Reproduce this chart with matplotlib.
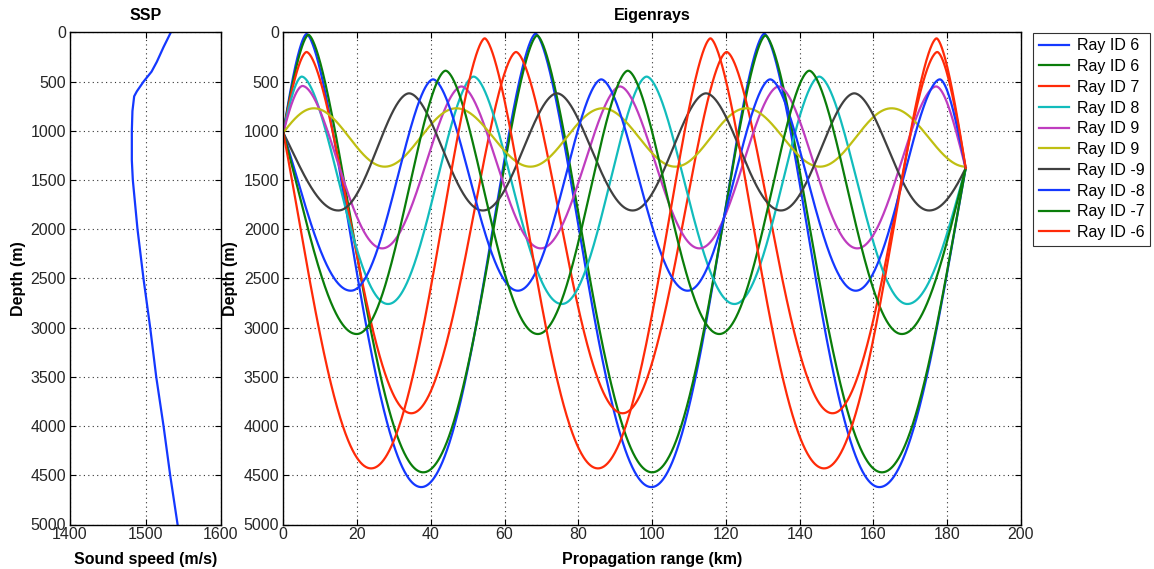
import numpy as np
import matplotlib
matplotlib.use("Agg")
import matplotlib.pyplot as plt

plt.rcParams['font.family'] = ['Liberation Sans', 'DejaVu Sans']

# ---------------- data ----------------
ssp_depth = [0, 150, 300, 400, 500, 600, 650, 800, 1000, 1300, 1500, 2000, 2500,
             3000, 3500, 4000, 4500, 5000]
ssp_speed = [1533.6, 1523.9, 1515.0, 1508.0, 1497.5, 1488.5, 1485.0, 1482.7, 1481.9,
             1481.9, 1483.2, 1489.4, 1497.3, 1506.2, 1514.2, 1523.9, 1532.7, 1542.5]

source_range = 0.0
source_depth = 1020.0
receiver_range = 185.0
receiver_depth = 1380.0

ray_labels = ['Ray ID 6', 'Ray ID 6', 'Ray ID 7', 'Ray ID 8', 'Ray ID 9', 'Ray ID 9',
              'Ray ID -9', 'Ray ID -8', 'Ray ID -7', 'Ray ID -6']

# turning points (range km, depth m) between source and receiver
ray1_range = [6.3, 37.4, 68.4, 99.8, 130.4, 161.6]
ray1_depth = [17, 4620, 14, 4620, 14, 4620]
ray2_range = [6.8, 37.95, 68.8, 100.0, 130.7, 162.3]
ray2_depth = [25, 4470, 32, 4470, 32, 4470]
ray3_range = [6.3, 34.7, 63.1, 92.0, 120.2, 148.9, 177.3]
ray3_depth = [200, 3870, 200, 3870, 200, 3870, 200]
ray4_range = [5.0, 28.4, 51.6, 75.5, 98.5, 122.3, 145.3, 169.2]
ray4_depth = [450, 2760, 450, 2760, 450, 2760, 450, 2760]
ray5_range = [5.2, 26.8, 48.3, 69.8, 91.3, 112.8, 134.3, 155.6, 177.0]
ray5_depth = [545, 2195, 550, 2195, 550, 2195, 550, 2195, 550]
ray6_range = [8.3, 27.5, 46.9, 67.0, 86.6, 106.3, 125.5, 145.5, 164.9]
ray6_depth = [772, 1365, 772, 1365, 772, 1365, 772, 1365, 772]
ray7_range = [14.9, 34.1, 54.1, 74.2, 94.7, 114.6, 134.9, 154.8, 175.1]
ray7_depth = [1810, 620, 1810, 620, 1810, 620, 1810, 620, 1810]
ray8_range = [18.3, 40.6, 63.6, 86.2, 109.6, 132.0, 155.2, 178.0]
ray8_depth = [2625, 478, 2625, 478, 2625, 478, 2625, 478]
ray9_range = [19.9, 44.0, 69.0, 93.4, 118.2, 142.6, 167.7]
ray9_depth = [3065, 390, 3065, 390, 3065, 390, 3065]
ray10_range = [23.8, 54.6, 85.3, 115.8, 146.6, 177.1]
ray10_depth = [4430, 61, 4430, 61, 4430, 61]

ray_ranges = [ray1_range, ray2_range, ray3_range, ray4_range, ray5_range,
              ray6_range, ray7_range, ray8_range, ray9_range, ray10_range]
ray_depths = [ray1_depth, ray2_depth, ray3_depth, ray4_depth, ray5_depth,
              ray6_depth, ray7_depth, ray8_depth, ray9_depth, ray10_depth]

# ---------------- styles ----------------
ray_colors = ['#1438ff', '#0a7d0a', '#ff2a08', '#12bcbc', '#bf3cbf', '#bfbf12',
              '#404040', '#1438ff', '#0a7d0a', '#ff2a08']
# sharpness of the shallow turning points (1 = symmetric)
ray_sharp = [0.8, 0.8, 0.84, 0.88, 0.9, 1.0, 0.92, 0.88, 0.86, 0.8]

NSEG = 200


def frac(u, p):
    u = np.clip(u, 0, 1)
    return (1 - np.cos(np.pi * u ** p)) / 2


def seg_depth(s, z_start, z_end, p):
    """depth along a half cycle from turning point z_start (s=0) to z_end (s=1)."""
    zsh, zdp = min(z_start, z_end), max(z_start, z_end)
    u = s if z_start < z_end else 1 - s
    return zsh + (zdp - zsh) * frac(u, p)


def partial(x_turn, z_turn, z_virtual, x_end, z_end, p):
    s_grid = np.linspace(0, 1, 2001)
    zg = seg_depth(s_grid, z_turn, z_virtual, p)
    if z_virtual > z_turn:
        s0 = np.interp(z_end, zg, s_grid)
    else:
        s0 = np.interp(-z_end, -zg, s_grid)
    s0 = max(s0, 1e-3)
    s = np.linspace(0, s0, NSEG)
    L = abs(x_end - x_turn) / s0
    direction = np.sign(x_end - x_turn)
    return x_turn + direction * s * L, seg_depth(s, z_turn, z_virtual, p)


def build_ray(rr, dd, p):
    xs, zs = [], []
    x, z = partial(rr[0], dd[0], dd[1], source_range, source_depth, p)
    xs.append(x[::-1]); zs.append(z[::-1])
    for i in range(len(rr) - 1):
        s = np.linspace(0, 1, NSEG)
        xs.append(rr[i] + s * (rr[i + 1] - rr[i]))
        zs.append(seg_depth(s, dd[i], dd[i + 1], p))
    x, z = partial(rr[-1], dd[-1], dd[-2], receiver_range, receiver_depth, p)
    xs.append(x); zs.append(z)
    return np.concatenate(xs), np.concatenate(zs)


# ---------------- figure ----------------
W, H = 1154, 569
fig = plt.figure(figsize=(W / 100, H / 100), dpi=100)


def frame(l, t, r, b):
    return [l / W, 1 - b / H, (r - l) / W, (b - t) / H]


ax1 = fig.add_axes(frame(70, 32.3, 221, 524.5))
ax2 = fig.add_axes(frame(283.3, 32.3, 1021, 524.5))

FS = 11.5
tick_kw = dict(direction='in', top=True, right=True, labelsize=FS, length=4,
               width=0.8, labelcolor='#262626')
grid_kw = dict(color='#333333', linestyle=(0, (1, 3)), linewidth=0.8)

ax1.plot(ssp_speed, ssp_depth, color='#1438ff', lw=1.6)
ax1.set_xlim(1400, 1600)
ax1.set_ylim(5000, 0)
ax1.set_xticks([1400, 1500, 1600])
ax1.set_yticks(np.arange(0, 5001, 500))
ax1.grid(True, **grid_kw)
ax1.tick_params(**tick_kw)
ax1.tick_params(axis='x', pad=2)
ax1.tick_params(axis='y', pad=3)
ax1.set_title('SSP', fontsize=FS, fontweight='bold', pad=9)
ax1.set_xlabel('Sound speed (m/s)', fontsize=FS, fontweight='bold', labelpad=7)
ax1.set_ylabel('Depth (m)', fontsize=FS, fontweight='bold', labelpad=3)

for rr, dd, c, p, lab in zip(ray_ranges, ray_depths, ray_colors, ray_sharp, ray_labels):
    x, z = build_ray(rr, dd, p)
    ax2.plot(x, z, color=c, lw=1.6, label=lab)

ax2.set_xlim(0, 200)
ax2.set_ylim(5000, 0)
ax2.set_xticks(np.arange(0, 201, 20))
ax2.set_yticks(np.arange(0, 5001, 500))
ax2.grid(True, **grid_kw)
ax2.tick_params(**tick_kw)
ax2.tick_params(axis='x', pad=2)
ax2.tick_params(axis='y', pad=3)
ax2.set_title('Eigenrays', fontsize=FS, fontweight='bold', pad=9)
ax2.set_xlabel('Propagation range (km)', fontsize=FS, fontweight='bold', labelpad=7)
ax2.set_ylabel('Depth (m)', fontsize=FS, fontweight='bold', labelpad=4)

for ax in (ax1, ax2):
    for sp in ax.spines.values():
        sp.set_linewidth(1.0)
        sp.set_color('black')

leg = fig.legend(*ax2.get_legend_handles_labels(), loc='upper left',
                 bbox_to_anchor=(1033 / W, 1 - 32.7 / H), fontsize=FS,
                 frameon=True, fancybox=False, edgecolor='black',
                 handlelength=1.9, handletextpad=0.5, labelspacing=0.36,
                 borderpad=0.35, borderaxespad=0)
leg.get_frame().set_linewidth(0.8)

fig.savefig('out.png', dpi=100)
